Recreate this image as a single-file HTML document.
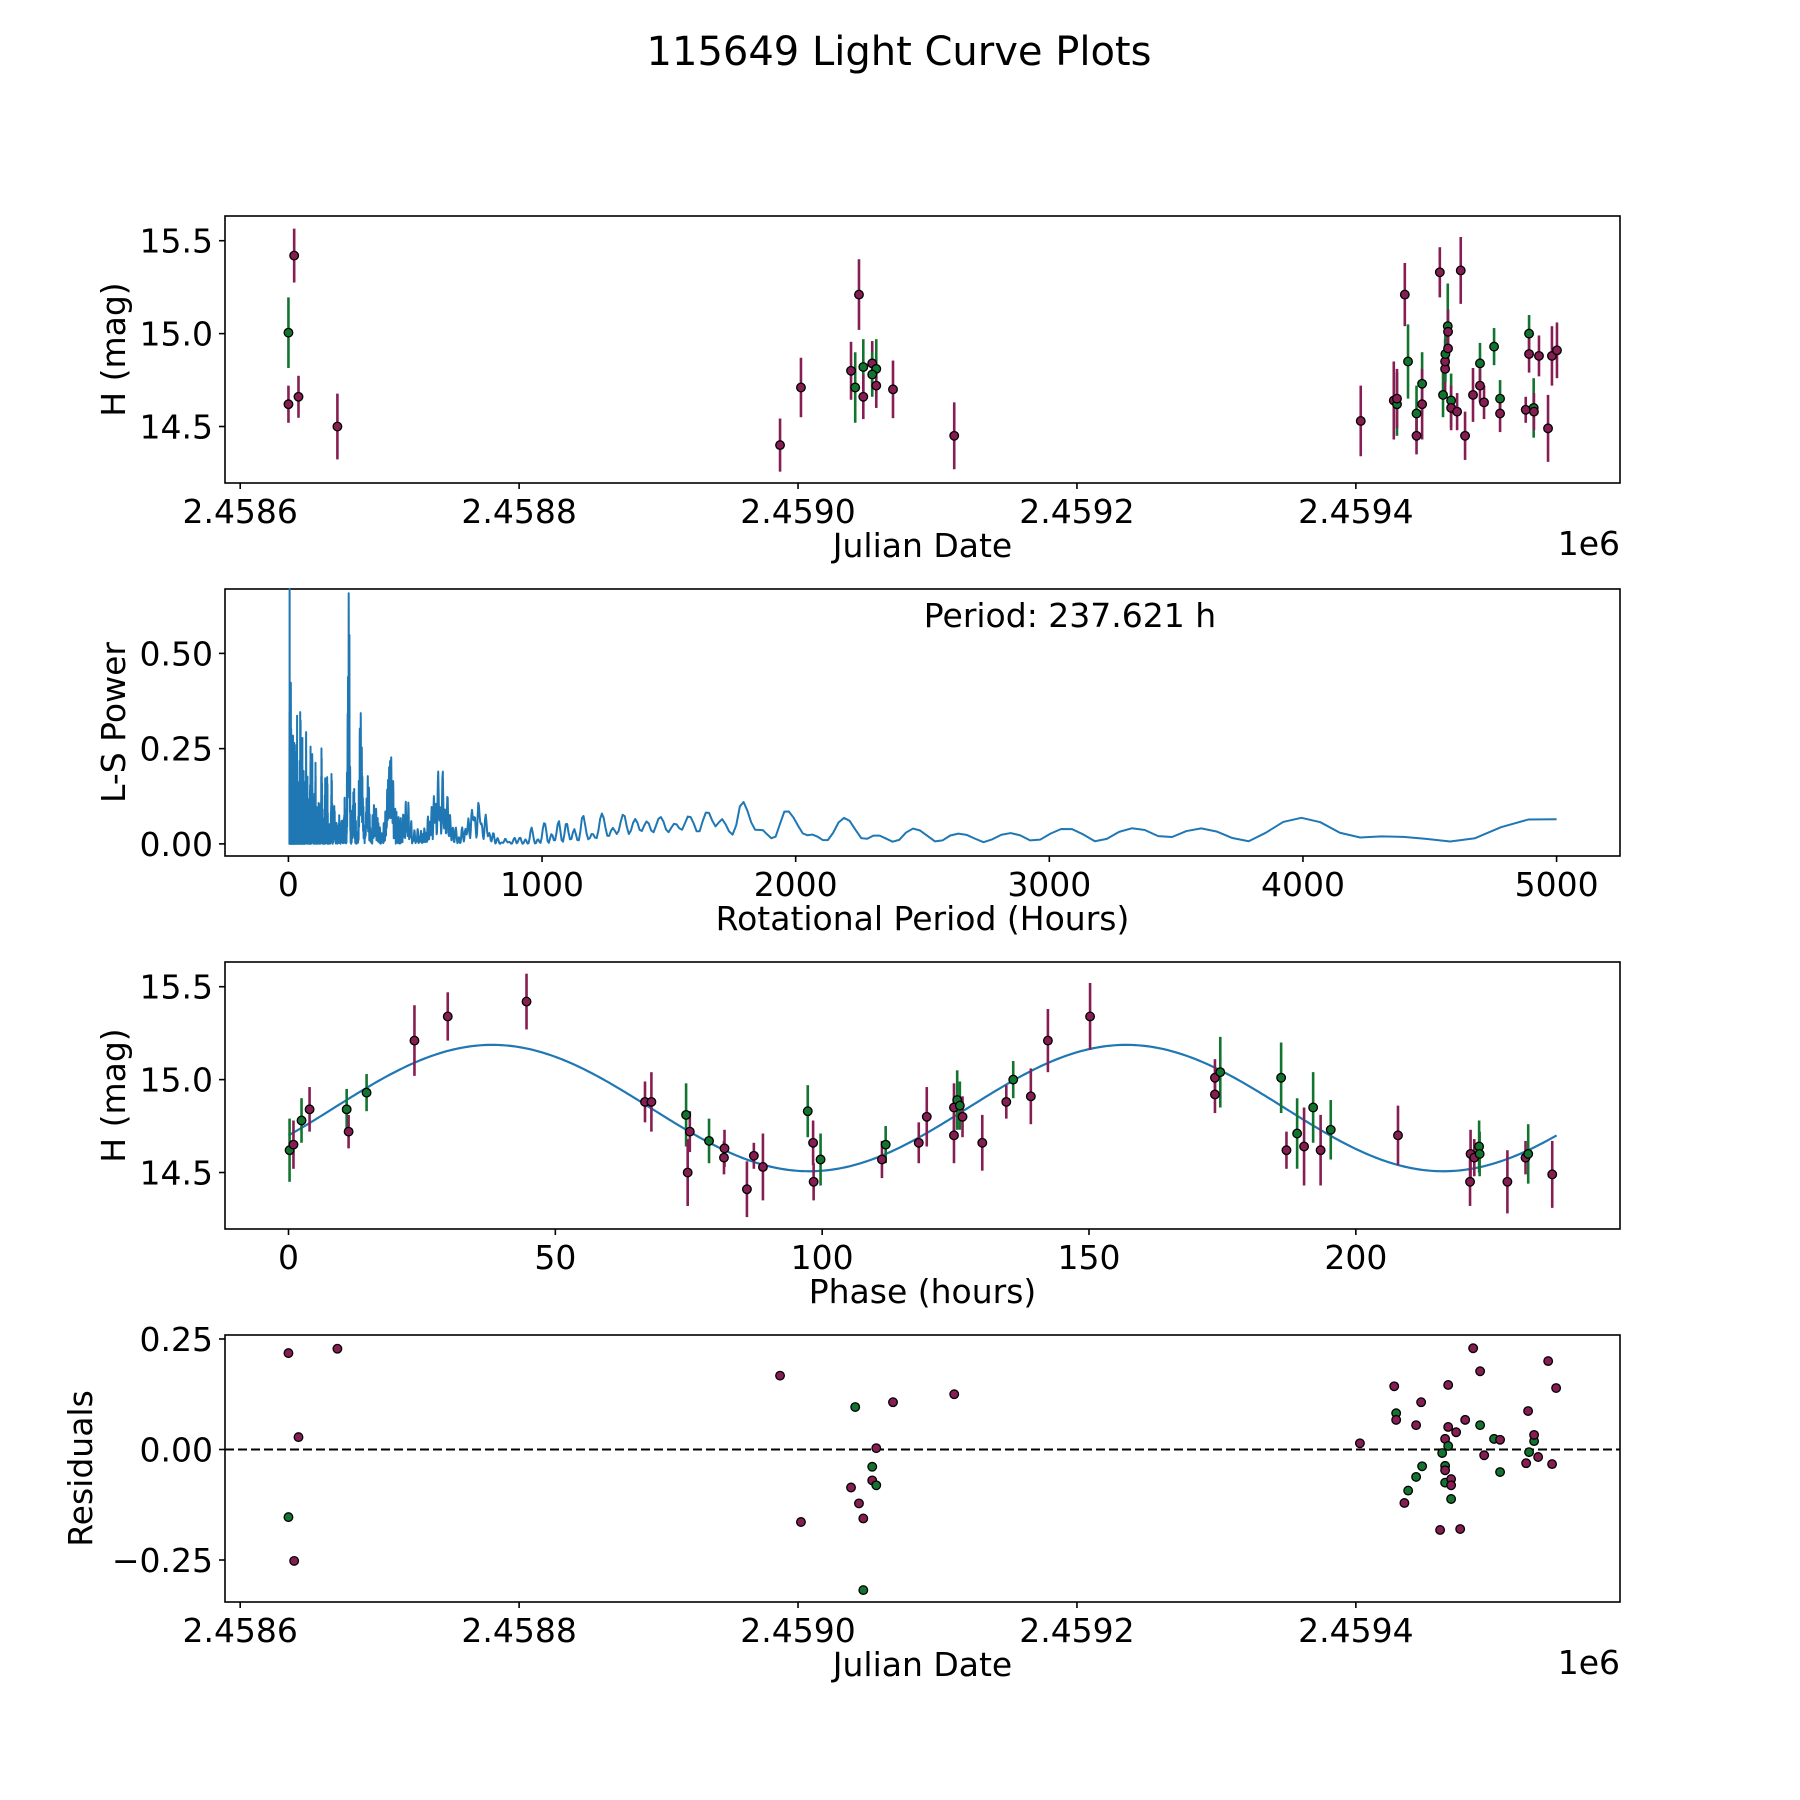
<!DOCTYPE html>
<html><head><meta charset="utf-8"><title>115649 Light Curve Plots</title>
<style>
html,body{margin:0;padding:0;background:#fff;}
svg{display:block;font-family:"DejaVu Sans","Liberation Sans",sans-serif;}
</style></head>
<body>
<svg id="fig" width="1800" height="1800" viewBox="0 0 1800 1800" xmlns="http://www.w3.org/2000/svg">
<rect width="1800" height="1800" fill="#fff"/>
<text x="899" y="65" font-size="40" text-anchor="middle">115649 Light Curve Plots</text>
</svg>
<script>
// ---- Panel 1: light curve (JD offset from 2458600, H mag, err, band)
var lcJd=[34.6,38.7,34.6,41.8,69.7,387.1,402.1,438.0,441.0,443.7,446.8,446.8,453.2,456.1,453.2,456.1,468.1,512.0,
803.5,827.2,829.5,829.5,835.1,837.4,843.5,843.5,847.5,847.5,860.2,862.5,864.0,864.0,864.2,866.1,865.9,866.1,868.3,868.3,872.6,875.2,878.3,884.0,889.0,889.0,891.9,899.1,903.4,903.4,921.8,924.2,924.2,927.5,927.7,931.3,937.8,940.6,944.2];
var lcMag=[14.62,15.42,15.005,14.66,14.50,14.40,14.71,14.80,14.71,15.21,14.82,14.66,14.84,14.81,14.78,14.72,14.70,14.45,
14.53,14.64,14.62,14.65,15.21,14.85,14.57,14.45,14.73,14.62,15.33,14.67,14.81,14.85,14.89,14.92,15.04,15.01,14.64,14.60,14.58,15.34,14.45,14.67,14.84,14.72,14.63,14.93,14.65,14.57,14.59,15.00,14.89,14.60,14.58,14.88,14.49,14.88,14.91];
var lcErr=[0.10,0.145,0.19,0.113,0.177,0.143,0.16,0.156,0.19,0.19,0.15,0.12,0.12,0.16,0.12,0.12,0.155,0.18,
0.19,0.21,0.17,0.16,0.17,0.20,0.15,0.10,0.17,0.19,0.135,0.12,0.12,0.12,0.15,0.12,0.23,0.12,0.145,0.12,0.10,0.18,0.13,0.145,0.11,0.09,0.09,0.10,0.10,0.10,0.07,0.10,0.10,0.16,0.10,0.11,0.18,0.16,0.15];
var lcBand=["m","m","g","m","m","m","m","m","g","m","g","m","m","g","g","m","m","m",
"m","m","g","m","m","g","g","m","g","m","m","g","m","m","g","m","g","m","g","m","m","m","m","m","g","m","m","g","g","m","m","g","m","g","m","m","m","m","m"];

// ---- Panel 3: phased light curve (phase hours, mag, err, band)
var phPhase=[0.2,0.93,2.44,3.95,10.9,11.26,14.63,23.6,29.84,44.6,66.8,68.0,74.5,75.2,74.8,78.8,81.7,81.6,87.2,88.9,85.9,97.3,98.3,98.4,99.7,
111.2,111.9,118.1,119.6,124.7,124.7,125.3,125.8,126.3,130.0,134.5,135.8,139.1,142.3,150.2,173.6,173.6,174.6,186.0,187.0,189.0,190.3,192.0,193.4,195.3,207.9,
221.5,222.2,223.1,223.2,221.4,228.4,231.8,232.3,236.8];
var phMag=[14.62,14.65,14.78,14.84,14.84,14.72,14.93,15.21,15.34,15.42,14.88,14.88,14.81,14.72,14.50,14.67,14.63,14.58,14.59,14.53,14.41,14.83,14.66,14.45,14.57,
14.57,14.65,14.66,14.80,14.85,14.70,14.89,14.86,14.80,14.66,14.88,15.00,14.91,15.21,15.34,15.01,14.92,15.04,15.01,14.62,14.71,14.64,14.85,14.62,14.73,14.70,
14.60,14.58,14.64,14.60,14.45,14.45,14.58,14.60,14.49];
var phErr=[0.17,0.13,0.12,0.12,0.11,0.09,0.10,0.19,0.13,0.15,0.11,0.16,0.17,0.11,0.18,0.12,0.10,0.09,0.07,0.18,0.15,0.14,0.12,0.10,0.14,
0.10,0.10,0.11,0.16,0.13,0.15,0.16,0.13,0.11,0.15,0.09,0.10,0.15,0.17,0.18,0.10,0.10,0.19,0.19,0.10,0.19,0.21,0.19,0.19,0.16,0.16,
0.13,0.10,0.14,0.12,0.13,0.17,0.09,0.16,0.18];
var phBand=["g","m","g","m","g","m","g","m","m","m","m","m","g","m","m","g","m","m","m","m","m","g","m","m","g",
"m","g","m","m","m","m","g","g","m","m","m","g","m","m","m","m","m","g","g","m","g","m","g","m","g","m",
"m","m","g","g","m","m","m","g","m"];
var periodHours=237.621;

// ---- Panel 4: residuals (JD offset, residual, band)
var resJd=[34.6,69.7,41.8,34.6,38.7,387.1,402.1,438.0,441.0,443.7,446.8,446.8,453.2,453.2,456.1,456.1,468.1,512.0,
802.9,827.5,828.9,828.9,834.8,837.5,843.2,843.2,846.8,847.5,860.4,861.9,864.0,864.0,864.0,864.0,866.2,866.2,866.2,868.3,868.3,868.3,871.9,874.8,878.4,884.1,889.1,889.1,892.0,899.1,903.4,903.4,922.1,923.5,924.2,927.8,927.8,930.7,937.9,940.7,943.6];
var resVal=[0.218,0.228,0.028,-0.153,-0.252,0.167,-0.164,-0.086,0.096,-0.122,-0.318,-0.156,-0.039,-0.070,-0.081,0.003,0.107,0.125,
0.014,0.143,0.082,0.067,-0.121,-0.093,0.055,-0.062,0.107,-0.038,-0.182,-0.008,-0.037,-0.047,-0.075,0.024,0.008,0.051,0.146,-0.067,-0.081,-0.112,0.039,-0.18,0.067,0.229,0.055,0.177,-0.013,0.024,0.022,-0.051,-0.031,0.087,-0.006,0.019,0.033,-0.017,0.2,-0.033,0.139];
var resBand=["m","m","m","g","m","m","m","m","g","m","g","m","g","m","g","m","m","m",
"m","m","g","m","m","g","m","g","m","g","m","g","g","m","g","m","g","m","m","m","m","g","m","m","m","m","g","m","m","g","m","g","m","m","g","g","m","m","m","m","m"];

// ---- tick definitions
var jdTicks=[0,200,400,600,800];
var jdTickLabels=["2.4586","2.4588","2.4590","2.4592","2.4594"];
var magTicks=[14.5,15.0,15.5];
var magTickLabels=["14.5","15.0","15.5"];
var lsXTicks=[0,1000,2000,3000,4000,5000];
var lsYTicks=[0,0.25,0.5];
var lsYTickLabels=["0.00","0.25","0.50"];
var phTicks=[0,50,100,150,200];
var resTicks=[-0.25,0,0.25];
var resTickLabels=["\u22120.25","0.00","0.25"];

var NS="http://www.w3.org/2000/svg";
var svg=document.getElementById("fig");
var COL={m:"#861d53",g:"#13742f"};
function mk(tag,attrs,parent){var e=document.createElementNS(NS,tag);for(var k in attrs)e.setAttribute(k,attrs[k]);(parent||svg).appendChild(e);return e;}
function axis(x0,x1,y0,y1,xmin,xmax,ymin,ymax){
  return {x0:x0,x1:x1,y0:y0,y1:y1,
    sx:function(v){return x0+(v-xmin)/(xmax-xmin)*(x1-x0);},
    sy:function(v){return y1-(v-ymin)/(ymax-ymin)*(y1-y0);}};
}
var FS=33;
function frame(ax,name,xt,xl,yt,yl,xlab,ylab,ylabX,offset){
  var g=mk("g",{});
  
  
  var r=mk("rect",{x:ax.x0,y:ax.y0,width:ax.x1-ax.x0,height:ax.y1-ax.y0,fill:"none",stroke:"#000","stroke-width":1.6},g);
  
  
  for(var i=0;i<xt.length;i++){
    var X=ax.sx(xt[i]);
    var tl=mk("line",{x1:X,x2:X,y1:ax.y1,y2:ax.y1+6,stroke:"#000","stroke-width":1.6},g);
    
    
    var tt=mk("text",{x:X,y:ax.y1+40,"font-size":FS,"text-anchor":"middle"},g);
    tt.textContent=xl[i];
    
    
  }
  for(var j=0;j<yt.length;j++){
    var Y=ax.sy(yt[j]);
    var yl1=mk("line",{x1:ax.x0-6,x2:ax.x0,y1:Y,y2:Y,stroke:"#000","stroke-width":1.6},g);
    
    
    var yt1=mk("text",{x:ax.x0-12,y:Y+12,"font-size":FS,"text-anchor":"end"},g);
    yt1.textContent=yl[j];
    
    
  }
  var xlb=mk("text",{x:(ax.x0+ax.x1)/2,y:ax.y1+74,"font-size":FS,"text-anchor":"middle"},g);
  xlb.textContent=xlab;
  
  
  var cy=(ax.y0+ax.y1)/2;
  var ylb=mk("text",{x:ylabX,y:cy,"font-size":FS,"text-anchor":"middle",transform:"rotate(-90 "+ylabX+" "+cy+")"},g);
  ylb.textContent=ylab;
  
  
  if(offset){
    var off=mk("text",{x:ax.x1,y:ax.y1+72,"font-size":FS,"text-anchor":"end"},g);
    off.textContent=offset;
    
    
  }
}
function errPoints(ax,xs,ys,es,bs,name){
  var g=mk("g",{});
  
  
  for(var i=0;i<xs.length;i++){
    var X=ax.sx(xs[i]);
    var l=mk("line",{x1:X,x2:X,y1:ax.sy(ys[i]-es[i]),y2:ax.sy(ys[i]+es[i]),stroke:COL[bs[i]],"stroke-width":2.6},g);
    
    
  }
  for(var k=0;k<xs.length;k++){
    var c=mk("circle",{cx:ax.sx(xs[k]),cy:ax.sy(ys[k]),r:4.3,fill:COL[bs[k]],stroke:"#000","stroke-width":1.3},g);
    
    
  }
}

// Panel 1
var ax1=axis(225,1620,216,483,-10.9,989.4,14.196,15.633);
frame(ax1,'light-curve-panel',jdTicks,jdTickLabels,magTicks,magTickLabels,'Julian Date','H (mag)',125,'1e6');
errPoints(ax1,lcJd,lcMag,lcErr,lcBand,'light-curve-points');

// Panel 2: Lomb-Scargle periodogram computed from the light-curve data (double-peaked period = 2/f)
var ax2=axis(225,1620,589,856,-250,5250,-0.0318,0.669);
frame(ax2,'periodogram-panel',lsXTicks,lsXTicks.map(String),lsYTicks,lsYTickLabels,'Rotational Period (Hours)','L-S Power',125,null);
(function(){
  var n=lcJd.length,t=[],w=[],sw=0,Y=0;
  for(var i=0;i<n;i++){t.push(lcJd[i]*24);var wi=1/(lcErr[i]*lcErr[i]);w.push(wi);sw+=wi;}
  for(i=0;i<n;i++){w[i]/=sw;Y+=w[i]*lcMag[i];}
  var y=[],YY=0;for(i=0;i<n;i++){y.push(lcMag[i]-Y);YY+=w[i]*y[i]*y[i];}
  var fmin=1/2500,fmax=0.5,df=9.16e-6,pts=[];
  for(var f=fmin;f<=fmax;f+=df){
    var om=2*Math.PI*f,C=0,S=0,YC=0,YS=0,CC=0,SS=0,CS=0;
    for(i=0;i<n;i++){var c=Math.cos(om*t[i]),s=Math.sin(om*t[i]),wi=w[i];
      C+=wi*c;S+=wi*s;YC+=wi*y[i]*c;YS+=wi*y[i]*s;CC+=wi*c*c;SS+=wi*s*s;CS+=wi*c*s;}
    CC-=C*C;SS-=S*S;CS-=C*S;
    var D=CC*SS-CS*CS;
    var p=(SS*YC*YC+CC*YS*YS-2*CS*YC*YS)/(YY*D);
    if(!isFinite(p))p=0;
    pts.push(ax2.sx(2/f).toFixed(2)+","+ax2.sy(Math.max(0,Math.min(p,1))).toFixed(2));
  }
  var pl=mk("polyline",{points:pts.join(" "),fill:"none",stroke:"#1f77b4","stroke-width":2,"stroke-linejoin":"round"});
  
  
})();
var pt=mk("text",{x:1070,y:627,"font-size":FS,"text-anchor":"middle"});
pt.textContent="Period: "+periodHours+" h";



// Panel 3: phased curve with a fitted double-peaked sinusoid
var ax3=axis(225,1620,962,1229,-11.9,249.5,14.196,15.633);
frame(ax3,'phase-panel',phTicks,phTicks.map(String),magTicks,magTickLabels,'Phase (hours)','H (mag)',125,null);
(function(){
  var A=[[0,0,0],[0,0,0],[0,0,0]],B=[0,0,0];
  for(var i=0;i<phPhase.length;i++){
    var th=4*Math.PI*phPhase[i]/periodHours,v=[1,Math.sin(th),Math.cos(th)],wi=1;
    for(var r=0;r<3;r++){B[r]+=wi*v[r]*phMag[i];for(var c=0;c<3;c++)A[r][c]+=wi*v[r]*v[c];}
  }
  for(var k=0;k<3;k++){for(var r2=k+1;r2<3;r2++){var f=A[r2][k]/A[k][k];for(var c2=k;c2<3;c2++)A[r2][c2]-=f*A[k][c2];B[r2]-=f*B[k];}}
  var x=[0,0,0];for(k=2;k>=0;k--){var s=B[k];for(var c3=k+1;c3<3;c3++)s-=A[k][c3]*x[c3];x[k]=s/A[k][k];}
  var pts=[];
  for(var j=0;j<=400;j++){var ph=periodHours*j/400,th2=4*Math.PI*ph/periodHours;
    pts.push(ax3.sx(ph).toFixed(2)+","+ax3.sy(x[0]+x[1]*Math.sin(th2)+x[2]*Math.cos(th2)).toFixed(2));}
  var pl=mk("polyline",{points:pts.join(" "),fill:"none",stroke:"#1f77b4","stroke-width":2.2});
  
  
})();
errPoints(ax3,phPhase,phMag,phErr,phBand,'phase-points');

// Panel 4: residuals
var ax4=axis(225,1620,1335,1602,-10.9,989.4,-0.345,0.259);
frame(ax4,'residuals-panel',jdTicks,jdTickLabels,resTicks,resTickLabels,'Julian Date','Residuals',92,'1e6');
var zl=mk("line",{x1:ax4.x0,x2:ax4.x1,y1:ax4.sy(0),y2:ax4.sy(0),stroke:"#000","stroke-width":2,"stroke-dasharray":"9,4"});


(function(){
  var g=mk("g",{});
  
  
  for(var i=0;i<resJd.length;i++){
    var c=mk("circle",{cx:ax4.sx(resJd[i]),cy:ax4.sy(resVal[i]),r:4.3,fill:COL[resBand[i]],stroke:"#000","stroke-width":1.3},g);
    
    
  }
})();
</script>
</body></html>
